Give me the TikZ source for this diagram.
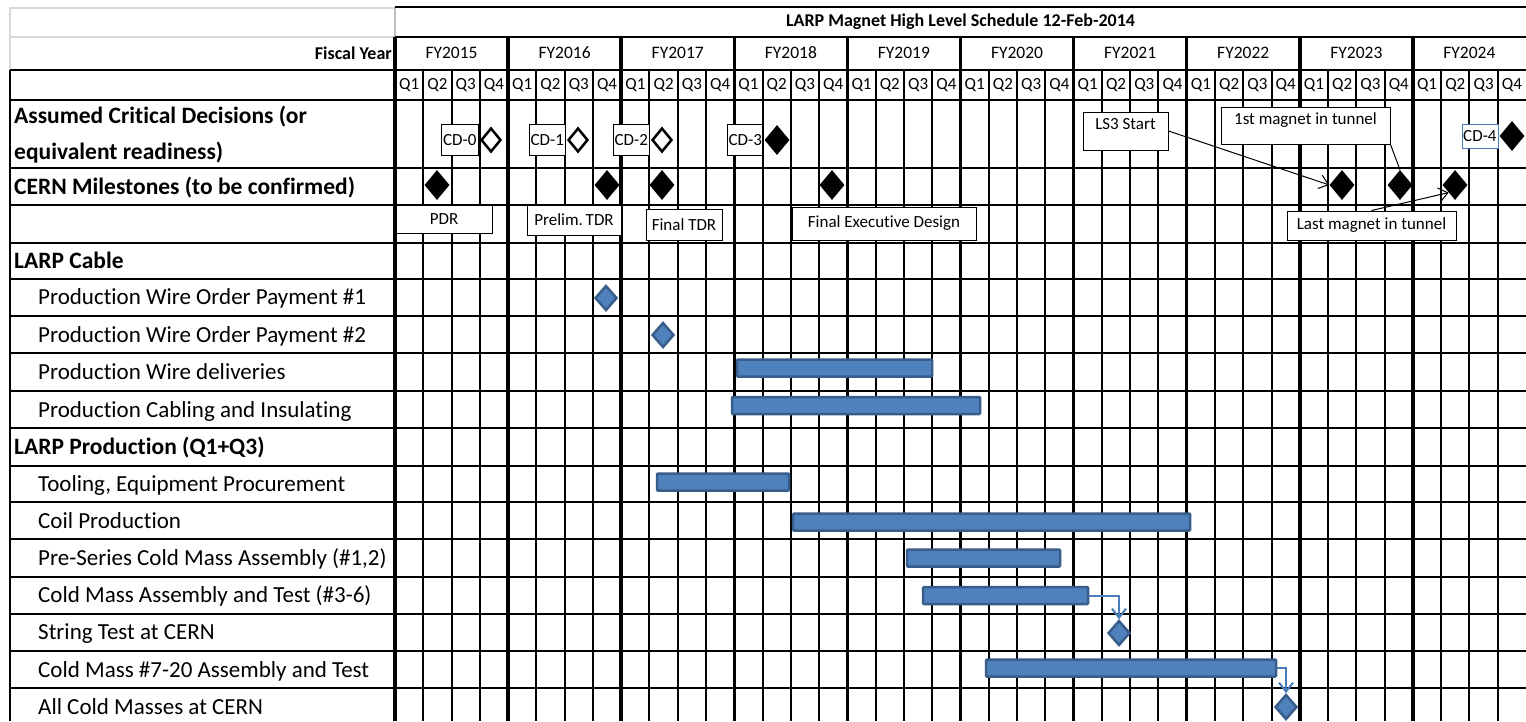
\documentclass[tikz,border=0pt]{standalone}
\usepackage{fontspec}
\setmainfont{Carlito}[Ligatures=NoCommon]
\usetikzlibrary{positioning,shapes.geometric,arrows.meta}

\definecolor{barfill}{RGB}{79,129,189}
\definecolor{barline}{RGB}{56,93,138}
\definecolor{linkblue}{RGB}{74,126,187}

\begin{document}
\begin{tikzpicture}[x=1pt, y=-1pt,
    rowtxt/.style={anchor=west, inner sep=0pt, text height=14.8pt, text depth=0pt, font=\fontsize{23}{27}\selectfont},
    headtxt/.style={rowtxt, font=\bfseries\fontsize{23.5}{27}\selectfont},
    tag/.style={draw, fill=white, line width=1pt, inner sep=0pt, font=\fontsize{17}{20}\selectfont},
    cd/.style={diamond, draw, line width=2.5pt, fill=white, inner sep=0pt, minimum width=20pt, minimum height=24pt},
    ms/.style={diamond, fill=black, inner sep=0pt, minimum width=25pt, minimum height=30pt},
    bms/.style={diamond, draw=barline, fill=barfill, line width=2.5pt, inner sep=0pt, minimum width=22pt, minimum height=25pt},
    bar/.style={draw=barline, fill=barfill, line width=2.5pt, rounded corners=1pt, inner sep=0pt, minimum height=17pt},
    link/.style={-{Straight Barb[length=9pt,width=14pt]}, line width=1pt},
    blink/.style={link, draw=linkblue, line width=2pt},
]

\useasboundingbox (0,0) rectangle (1526,721);
\clip (0,0) rectangle (1526,721);
\fill[white] (0,0) rectangle (1526,721);

% header box on the left
\draw[gray!30, line width=1.5pt] (395,8) -- (10,8) -- (10,70);
\draw[gray!30, line width=1.5pt] (10,37) -- (395,37);
\draw[gray!50, line width=1.5pt] (395,7) -- (395,37);

% rows
\draw[line width=2.5pt] (395,7) -- (1526,7);
\draw[line width=2.5pt] (395,37) -- (1526,37);
\foreach \y in {70,100,168,205,243,279,316,353,391,428,466,502,539,577,614,651,688}
    \draw[line width=2.5pt] (10,\y) -- (1526,\y);

% quarters and years
\foreach \i in {1,...,39}
    \draw[line width=2pt] ({395+28.275*\i},70) -- ({395+28.275*\i},721);
\foreach \i in {0,...,9}
    \draw[line width=3.5pt] ({395+113.1*\i},37) -- ({395+113.1*\i},721);
\draw[line width=2.5pt] (10,70) -- (10,721);

% header text
\node[font=\bfseries\fontsize{18}{21}\selectfont] (title) at (960.5,22) {LARP Magnet High Level Schedule 12-Feb-2014};
\node[anchor=east, inner sep=0pt, font=\bfseries\fontsize{18}{21}\selectfont] (fiscal) at (392,53) {Fiscal Year};
\foreach \i in {0,...,9} {
    \pgfmathtruncatemacro\fy{2015+\i}
    \node[font=\fontsize{17.5}{20}\selectfont] (fy\fy) at ({395+113.1*\i+56.55},53) {FY\fy};
}
\foreach \i in {0,...,39} {
    \pgfmathtruncatemacro\q{mod(\i,4)+1}
    \node[font=\fontsize{17}{20}\selectfont, inner sep=0pt] (q\i) at ({395+28.275*\i+14.14},85) {Q\q};
}

% row labels
\node[headtxt] (cdrowa) at (14,116) {Assumed Critical Decisions (or};
\node[headtxt] (cdrowb) at (14,152) {equivalent readiness)};
\node[headtxt] (cernrow) at (14,187) {CERN Milestones (to be confirmed)};
\node[headtxt] (cable) at (14,261) {LARP Cable};
\node[rowtxt] (payone) at (38,297) {Production Wire Order Payment \#1};
\node[rowtxt] (paytwo) at (38,335) {Production Wire Order Payment \#2};
\node[rowtxt] (wiredel) at (38,372) {Production Wire deliveries};
\node[rowtxt] (cabling) at (38,410) {Production Cabling and Insulating};
\node[headtxt] (prod) at (14,447) {LARP Production (Q1+Q3)};
\node[rowtxt] (tooling) at (38,484) {Tooling, Equipment Procurement};
\node[rowtxt] (coil) at (38,521) {Coil Production};
\node[rowtxt] (preser) at (38,558) {Pre-Series Cold Mass Assembly (\#1,2)};
\node[rowtxt] (cmthree) at (38,595) {Cold Mass Assembly and Test (\#3-6)};
\node[rowtxt] (string) at (38,632) {String Test at CERN};
\node[rowtxt] (cmseven) at (38,670) {Cold Mass \#7-20 Assembly and Test};
\node[rowtxt] (allcold) at (38,707) {All Cold Masses at CERN};

% critical decisions
\node[cd] (cd0) at (491,140) {};
\node[cd] (cd1) at (578,140) {};
\node[cd] (cd2) at (662,140) {};
\node[ms] (cd3) at (777,140) {};
\node[ms] (cd4) at (1512,136) {};
\node[tag, left=1pt of cd0, minimum width=37pt, minimum height=31pt] (cd0lbl) {CD-0};
\node[tag, left=1pt of cd1, minimum width=36pt, minimum height=31pt] (cd1lbl) {CD-1};
\node[tag, left=1pt of cd2, minimum width=36pt, minimum height=31pt] (cd2lbl) {CD-2};
\node[tag, left=1pt of cd3, minimum width=35pt, minimum height=31pt] (cd3lbl) {CD-3};
\node[tag, draw=linkblue, line width=0.8pt, left=1pt of cd4, minimum width=36pt, minimum height=24pt] (cd4lbl) {CD-4};

% CERN milestones
\node[ms] (m1) at (437,185) {};
\node[ms] (m2) at (607,185) {};
\node[ms] (m3) at (662,185) {};
\node[ms] (m4) at (832,185) {};
\node[ms] (m5) at (1342,185) {};
\node[ms] (m6) at (1400,185) {};
\node[ms] (m7) at (1455,185) {};

% design reviews
\node[tag, minimum width=96pt, minimum height=28pt] (pdr) at (444,219) {PDR};
\node[tag, minimum width=94pt, minimum height=30pt] (prelim) at (574,220) {Prelim.\,TDR};
\node[tag, minimum width=76pt, minimum height=31pt] (final) at (684,224.5) {Final TDR};
\node[tag, minimum width=184pt, minimum height=33pt] (exec) at (884,223.5) {Final Executive Design};
\node[tag, minimum width=169pt, minimum height=29pt] (lastmag) at (1371.5,225.5) {Last magnet in tunnel};
\node[tag, minimum width=85pt, minimum height=38pt, text depth=14pt] (ls3) at (1125.5,131) {LS3 Start};
\node[tag, minimum width=169pt, minimum height=37pt, text depth=14pt] (firstmag) at (1305.5,125.5) {1st magnet in tunnel};

\draw[link] (ls3.east) -- (m5.west);
\draw[line width=1pt] (firstmag.south east) -- (m6.north);
\draw[link] (lastmag.north) -- (m7.south west);

% cable tasks
\node[bms] (pay1) at (606,298) {};
\node[bms] (pay2) at (663,335) {};
\node[bar, minimum width=195pt] (wdel) at (834.5,368) {};
\node[bar, minimum width=248pt] (cabl) at (856,405.5) {};

% production tasks
\node[bar, minimum width=132pt] (tool) at (723,482) {};
\node[bar, minimum width=397pt] (coilbar) at (991.5,522) {};
\node[bar, minimum width=153pt] (pres) at (983.5,558) {};
\node[bar, minimum width=165pt] (cm36) at (1005.5,595.5) {};
\node[bms] (strt) at (1119,633) {};
\node[bar, minimum width=290pt] (cm720) at (1131,668) {};
\node[bms] (allcm) at (1286,707) {};

\draw[blink] (cm36.east) -| (strt.north);
\draw[blink] (cm720.east) -| (allcm.north);

\end{tikzpicture}
\end{document}
